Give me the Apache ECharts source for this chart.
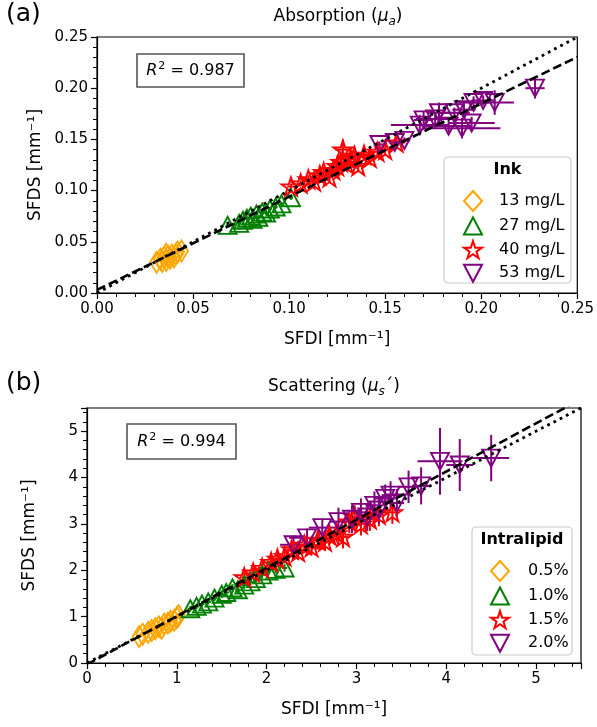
<!DOCTYPE html>
<html>
<head>
<meta charset="utf-8">
<script src="https://cdn.jsdelivr.net/npm/echarts@6/dist/echarts.min.js"></script>
<style>
html,body{margin:0;padding:0;background:#fff;}
#chart{width:597px;height:727px;}
</style>
</head>
<body>
<div id="chart"></div>
<script>
// ---------- (a) Absorption data ----------
const ink13_x = [0.031,0.033,0.034,0.035,0.036,0.036,0.037,0.038,0.039,0.040,0.041,0.042,0.044];
const ink13_y = [0.030,0.033,0.031,0.035,0.032,0.038,0.036,0.034,0.037,0.035,0.038,0.040,0.041];
const ink13_xerr = [0.001,0.001,0.001,0.001,0.001,0.001,0.001,0.001,0.001,0.001,0.001,0.001,0.001];
const ink13_yerr = [0.001,0.001,0.001,0.001,0.001,0.001,0.001,0.001,0.001,0.001,0.001,0.001,0.001];

const ink27_x = [0.068,0.074,0.076,0.078,0.080,0.081,0.083,0.084,0.086,0.088,0.090,0.093,0.096,0.101];
const ink27_y = [0.066,0.068,0.071,0.073,0.075,0.072,0.077,0.074,0.079,0.078,0.082,0.084,0.087,0.093];
const ink27_xerr = [0.001,0.001,0.001,0.001,0.001,0.001,0.001,0.001,0.001,0.001,0.001,0.001,0.001,0.001];
const ink27_yerr = [0.002,0.002,0.002,0.002,0.002,0.002,0.002,0.002,0.002,0.002,0.002,0.002,0.002,0.002];

const ink40_x = [0.101,0.106,0.110,0.113,0.116,0.118,0.121,0.123,0.125,0.127,0.128,0.130,0.132,0.134,0.136,0.139,0.142,0.146,0.150,0.156];
const ink40_y = [0.104,0.107,0.111,0.109,0.115,0.118,0.113,0.120,0.124,0.128,0.140,0.126,0.131,0.134,0.124,0.135,0.132,0.138,0.140,0.147];
const ink40_xerr = [0.002,0.002,0.003,0.002,0.003,0.003,0.002,0.003,0.003,0.003,0.004,0.003,0.003,0.003,0.003,0.003,0.003,0.003,0.003,0.003];
const ink40_yerr = [0.003,0.003,0.004,0.003,0.004,0.004,0.004,0.005,0.005,0.005,0.010,0.005,0.005,0.005,0.005,0.005,0.005,0.006,0.006,0.006];

const ink53_x = [0.147,0.155,0.160,0.168,0.170,0.176,0.178,0.183,0.186,0.190,0.191,0.195,0.196,0.201,0.207,0.228];
const ink53_y = [0.145,0.147,0.149,0.164,0.169,0.170,0.176,0.163,0.176,0.161,0.179,0.166,0.186,0.188,0.186,0.200];
const ink53_xerr = [0.003,0.003,0.003,0.015,0.005,0.010,0.006,0.012,0.008,0.020,0.006,0.012,0.008,0.006,0.010,0.005];
const ink53_yerr = [0.003,0.003,0.003,0.010,0.008,0.006,0.010,0.006,0.005,0.010,0.008,0.006,0.006,0.005,0.012,0.010];

// fit: [intercept, slope]
const fitAbs = [0.003, 0.91];
const absRange = [0, 0.25];

// ---------- (b) Scattering data ----------
const il05_x = [0.58,0.62,0.68,0.72,0.76,0.80,0.83,0.86,0.90,0.93,0.97,1.00,1.02];
const il05_y = [0.57,0.62,0.66,0.70,0.74,0.78,0.75,0.84,0.86,0.90,0.92,0.98,1.02];
const il05_xerr = [0.03,0.03,0.03,0.03,0.03,0.03,0.03,0.03,0.03,0.03,0.03,0.03,0.03];
const il05_yerr = [0.05,0.05,0.05,0.05,0.05,0.05,0.05,0.05,0.05,0.05,0.05,0.05,0.05];

const il10_x = [1.15,1.22,1.28,1.35,1.42,1.50,1.55,1.62,1.68,1.75,1.82,1.88,1.95,2.02,2.10,2.20];
const il10_y = [1.17,1.22,1.27,1.32,1.40,1.48,1.52,1.62,1.58,1.68,1.75,1.82,1.90,1.98,2.02,2.05];
const il10_xerr = [0.03,0.03,0.03,0.03,0.03,0.03,0.03,0.03,0.03,0.03,0.03,0.03,0.03,0.03,0.03,0.03];
const il10_yerr = [0.06,0.06,0.06,0.06,0.06,0.08,0.08,0.08,0.08,0.08,0.08,0.08,0.08,0.08,0.08,0.08];

const il15_x = [1.75,1.85,1.95,2.05,2.12,2.20,2.28,2.35,2.42,2.50,2.57,2.65,2.70,2.78,2.85,2.92,2.98,3.05,3.15,3.25,3.40];
const il15_y = [1.85,1.95,2.05,2.18,2.25,2.30,2.45,2.40,2.55,2.50,2.65,2.62,2.75,2.80,2.72,3.05,3.15,3.00,3.10,3.20,3.25];
const il15_xerr = [0.05,0.05,0.05,0.05,0.05,0.05,0.05,0.05,0.06,0.06,0.06,0.06,0.06,0.06,0.06,0.06,0.06,0.06,0.06,0.06,0.06];
const il15_yerr = [0.10,0.10,0.12,0.12,0.15,0.15,0.15,0.18,0.18,0.18,0.20,0.20,0.20,0.20,0.25,0.25,0.25,0.25,0.25,0.25,0.25];

const il20_x = [2.30,2.45,2.62,2.80,2.95,3.05,3.12,3.20,3.25,3.32,3.38,3.45,3.58,3.72,3.93,4.15,4.50];
const il20_y = [2.55,2.70,2.92,3.05,3.10,3.25,3.15,3.40,3.30,3.55,3.62,3.45,3.80,3.82,4.35,4.27,4.42];
const il20_xerr = [0.15,0.20,0.15,0.10,0.08,0.10,0.10,0.10,0.08,0.12,0.10,0.08,0.12,0.10,0.25,0.15,0.20];
const il20_yerr = [0.20,0.20,0.20,0.30,0.30,0.30,0.30,0.30,0.30,0.30,0.30,0.30,0.35,0.40,0.72,0.56,0.50];

const fitSca = [-0.03, 1.04];
const scaRange = [0, 5.5];

// legend labels
const absNames = ['13 mg/L', '27 mg/L', '40 mg/L', '53 mg/L'];
const scaNames = ['0.5%', '1.0%', '1.5%', '2.0%'];

// ---------- styling ----------
const FONT = 'DejaVu Sans';
const COLORS = ['#FFA500', '#008000', '#FF0000', '#800080'];
const STAR = 'path://M100,0 L122.45,69.1 L195.1,69.1 L136.3,111.8 L158.8,180.9 L100,138.2 L41.2,180.9 L63.7,111.8 L4.9,69.1 L77.55,69.1 Z';
const TRI_DOWN = 'path://M0,0 L200,0 L100,190 Z';
const TRI_UP = 'path://M100,0 L200,190 L0,190 Z';
const SYMBOLS = ['diamond', TRI_UP, STAR, TRI_DOWN];
const SIZES = [[13, 21], [18, 17], [19, 18], [18, 17]];

function zip(xs, ys, xe, ye) {
  return xs.map((x, i) => [x, ys[i], xe[i], ye[i]]);
}

function errSeries(data, color, axisIdx) {
  return {
    type: 'custom',
    xAxisIndex: axisIdx, yAxisIndex: axisIdx,
    clip: true,
    silent: true,
    z: 2,
    encode: { x: 0, y: 1 },
    data: data,
    renderItem: function (params, api) {
      const x = api.value(0), y = api.value(1), ex = api.value(2), ey = api.value(3);
      const a = api.coord([x - ex, y]), b = api.coord([x + ex, y]);
      const c = api.coord([x, y - ey]), d = api.coord([x, y + ey]);
      const st = { stroke: color, lineWidth: 2 };
      return {
        type: 'group',
        children: [
          { type: 'line', shape: { x1: a[0], y1: a[1], x2: b[0], y2: b[1] }, style: st },
          { type: 'line', shape: { x1: c[0], y1: c[1], x2: d[0], y2: d[1] }, style: st }
        ]
      };
    }
  };
}

function scatterSeries(name, data, k, axisIdx) {
  return {
    name: name,
    type: 'scatter',
    xAxisIndex: axisIdx, yAxisIndex: axisIdx,
    symbol: SYMBOLS[k],
    symbolSize: SIZES[k],
    z: 3,
    data: data.map(d => [d[0], d[1]]),
    itemStyle: { color: 'rgba(255,255,255,0)', borderColor: COLORS[k], borderWidth: 1.9, opacity: 1 }
  };
}

function fitLine(fit, range, axisIdx) {
  return {
    type: 'line', xAxisIndex: axisIdx, yAxisIndex: axisIdx, symbol: 'none', silent: true, z: 4,
    data: [[range[0], fit[0] + fit[1] * range[0]], [range[1], fit[0] + fit[1] * range[1]]],
    lineStyle: { color: '#000', width: 2.6, type: [9, 4] }
  };
}
function idLine(range, axisIdx) {
  return {
    type: 'line', xAxisIndex: axisIdx, yAxisIndex: axisIdx, symbol: 'none', silent: true, z: 4,
    data: [[range[0], range[0]], [range[1], range[1]]],
    lineStyle: { color: '#000', width: 2.8, type: [2.8, 4.2] }
  };
}

const absSets = [
  zip(ink13_x, ink13_y, ink13_xerr, ink13_yerr),
  zip(ink27_x, ink27_y, ink27_xerr, ink27_yerr),
  zip(ink40_x, ink40_y, ink40_xerr, ink40_yerr),
  zip(ink53_x, ink53_y, ink53_xerr, ink53_yerr)
];
const scaSets = [
  zip(il05_x, il05_y, il05_xerr, il05_yerr),
  zip(il10_x, il10_y, il10_xerr, il10_yerr),
  zip(il15_x, il15_y, il15_xerr, il15_yerr),
  zip(il20_x, il20_y, il20_xerr, il20_yerr)
];

const series = [];
absSets.forEach((d, k) => series.push(errSeries(d, COLORS[k], 0)));
absSets.forEach((d, k) => series.push(scatterSeries(absNames[k], d, k, 0)));
series.push(idLine(absRange, 0), fitLine(fitAbs, absRange, 0));
scaSets.forEach((d, k) => series.push(errSeries(d, COLORS[k], 1)));
scaSets.forEach((d, k) => series.push(scatterSeries(scaNames[k], d, k, 1)));
series.push(idLine(scaRange, 1), fitLine(fitSca, scaRange, 1));

const labelStyle = { fontFamily: FONT, fontSize: 15, color: '#000' };
function makeAxis(gridIndex, range, interval, name, nameGap, fmt) {
  return {
    type: 'value', gridIndex: gridIndex, min: range[0], max: range[1], interval: interval,
    name: name, nameGap: nameGap, nameLocation: 'middle',
    nameTextStyle: { fontFamily: FONT, fontSize: 17, color: '#000' },
    axisLine: { show: true, onZero: false, lineStyle: { color: '#000', width: 1.2 } },
    axisTick: { show: true, inside: false, length: 6, lineStyle: { color: '#000', width: 1.2 } },
    minorTick: { show: true, splitNumber: 5, length: 4, lineStyle: { color: '#000', width: 1 } },
    splitLine: { show: false },
    minorSplitLine: { show: false },
    axisLabel: Object.assign({ margin: 9, showMaxLabel: fmt === 'f2', formatter: function (v) {
      if (fmt === 'f2') return v.toFixed(2);
      return Math.abs(v - Math.round(v)) < 1e-9 ? String(Math.round(v)) : '';
    } }, labelStyle)
  };
}

const titleRich = {
  n: { fontFamily: FONT, fontSize: 17, fill: '#000' },
  i: { fontFamily: FONT, fontSize: 17, fontStyle: 'italic', fill: '#000' },
  s: { fontFamily: FONT, fontSize: 12, fontStyle: 'italic', fill: '#000', padding: [10, 0, 0, 0] }
};
const r2Rich = {
  i: { fontFamily: FONT, fontSize: 16, fontStyle: 'italic', fill: '#000' },
  p: { fontFamily: FONT, fontSize: 11, fill: '#000', padding: [0, 0, 9, 1] },
  n: { fontFamily: FONT, fontSize: 16, fill: '#000' }
};

const option = {
  animation: false,
  backgroundColor: '#fff',
  grid: [
    { left: 97, top: 37, width: 483, height: 256, show: true, borderColor: '#000', borderWidth: 1.2, backgroundColor: 'transparent' },
    { left: 87, top: 408, width: 494, height: 255, show: true, borderColor: '#000', borderWidth: 1.2, backgroundColor: 'transparent' }
  ],
  xAxis: [
    makeAxis(0, absRange, 0.05, 'SFDI [mm⁻¹]', 38, 'f2'),
    makeAxis(1, scaRange, 1, 'SFDI [mm⁻¹]', 38, 'int')
  ],
  yAxis: [
    makeAxis(0, absRange, 0.05, 'SFDS [mm⁻¹]', 53, 'f2'),
    makeAxis(1, scaRange, 1, 'SFDS [mm⁻¹]', 49, 'int')
  ],
  legend: [
    { data: absNames, orient: 'vertical', left: 458, top: 185, itemWidth: 18, itemHeight: 20, itemGap: 4.5,
      textStyle: { fontFamily: FONT, fontSize: 16, color: '#000', padding: [0, 0, 0, 12] }, selectedMode: false },
    { data: scaNames, orient: 'vertical', left: 485, top: 555, itemWidth: 18, itemHeight: 20, itemGap: 4.5,
      textStyle: { fontFamily: FONT, fontSize: 16, color: '#000', padding: [0, 0, 0, 14] }, selectedMode: false }
  ],
  graphic: [
    { type: 'text', left: 6, top: 2, style: { text: '(a)', fontFamily: FONT, fontSize: 25, fill: '#000' } },
    { type: 'text', left: 6, top: 371, style: { text: '(b)', fontFamily: FONT, fontSize: 25, fill: '#000' } },
    { type: 'text', x: 338, y: 17, style: { text: '{n|Absorption (}{i|μ}{s|a}{n|)}', textAlign: 'center', textVerticalAlign: 'middle', rich: titleRich } },
    { type: 'text', x: 334, y: 387, style: { text: '{n|Scattering (}{i|μ}{s|s}{n|´)}', textAlign: 'center', textVerticalAlign: 'middle', rich: titleRich } },
    // R^2 boxes
    { type: 'rect', shape: { x: 137, y: 54, width: 107, height: 33 }, style: { fill: '#fff', stroke: '#555', lineWidth: 1.6 }, z: 10 },
    { type: 'text', x: 190.5, y: 70.5, z: 11, style: { text: '{i|R}{p|2}{n| = 0.987}', textAlign: 'center', textVerticalAlign: 'middle', rich: r2Rich } },
    { type: 'rect', shape: { x: 127, y: 424, width: 109, height: 35 }, style: { fill: '#fff', stroke: '#555', lineWidth: 1.6 }, z: 10 },
    { type: 'text', x: 181.5, y: 441.5, z: 11, style: { text: '{i|R}{p|2}{n| = 0.994}', textAlign: 'center', textVerticalAlign: 'middle', rich: r2Rich } },
    // legend frames + titles
    { type: 'rect', shape: { x: 444, y: 157, width: 127, height: 126, r: 4 }, style: { fill: 'rgba(255,255,255,0.8)', stroke: '#ccc', lineWidth: 1.2 }, z: 1 },
    { type: 'text', x: 507.5, y: 170, z: 11, style: { text: 'Ink', textAlign: 'center', textVerticalAlign: 'middle', fontFamily: FONT, fontSize: 16, fontWeight: 'bold', fill: '#000' } },
    { type: 'rect', shape: { x: 472, y: 527, width: 100, height: 128, r: 4 }, style: { fill: 'rgba(255,255,255,0.8)', stroke: '#ccc', lineWidth: 1.2 }, z: 1 },
    { type: 'text', x: 522, y: 540, z: 11, style: { text: 'Intralipid', textAlign: 'center', textVerticalAlign: 'middle', fontFamily: FONT, fontSize: 16, fontWeight: 'bold', fill: '#000' } }
  ],
  series: series
};

const chart = echarts.init(document.getElementById('chart'), null, { renderer: 'canvas' });
chart.setOption(option);
</script>
</body>
</html>
